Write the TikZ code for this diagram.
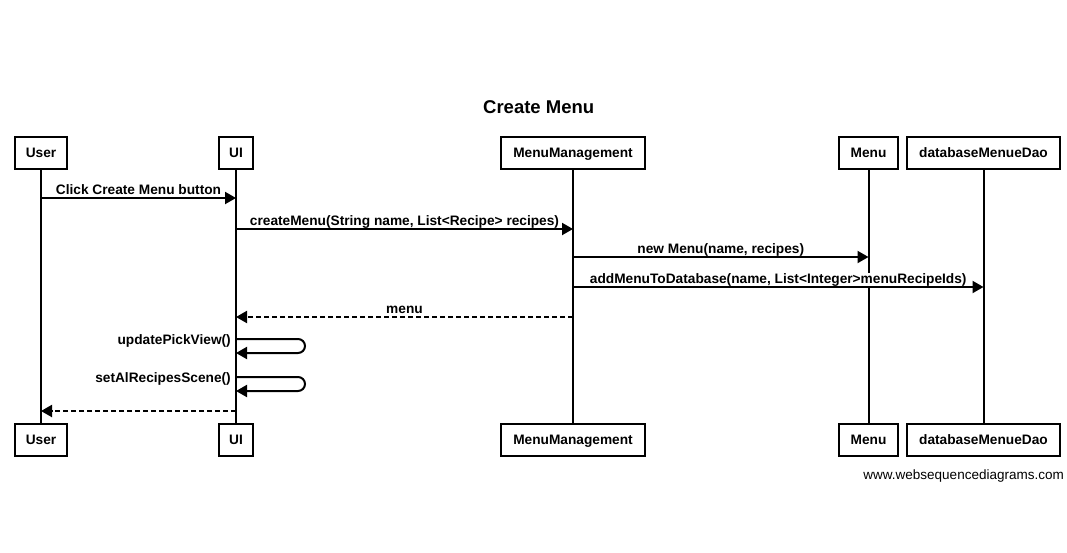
\documentclass[tikz,border=0pt]{standalone}
\usepackage{fontspec}
\setmainfont{Liberation Sans}
\usetikzlibrary{arrows.meta,calc}
\tikzset{
  actor/.style={draw, line width=2pt, fill=white, minimum height=32pt, inner sep=0pt,
    text height=9.9pt, text depth=0pt,
    font=\bfseries\fontsize{13.7}{16}\selectfont},
  life/.style={line width=2pt},
  msg/.style={line width=2pt, -{Triangle[length=11pt,width=12pt]}},
  ret/.style={msg, dash pattern=on 5pt off 3pt},
  lbl/.style={font=\bfseries\fontsize{13.7}{16}\selectfont, inner sep=0pt, anchor=base, fill=white},
  selflbl/.style={font=\bfseries\fontsize{13.7}{16}\selectfont, inner sep=0pt, anchor=base east},
}
\begin{document}
\begin{tikzpicture}[x=1pt,y=-1pt]
\useasboundingbox (0,0) rectangle (1067,552);
\node[font=\bfseries\fontsize{18.5}{22}\selectfont, anchor=base] (title) at (538.7,113) {Create Menu};
% top actors
\node[actor, minimum width=52pt]  (uT)  at (41,153)    {User};
\node[actor, minimum width=34pt]  (uiT) at (236,153)   {UI};
\node[actor, minimum width=144pt] (mmT) at (573,153)   {MenuManagement};
\node[actor, minimum width=59pt]  (meT) at (868.5,153) {Menu};
\node[actor, minimum width=153pt] (dbT) at (983.5,153) {databaseMenueDao};
% bottom actors
\node[actor, minimum width=52pt]  (uB)  at (41,440)    {User};
\node[actor, minimum width=34pt]  (uiB) at (236,440)   {UI};
\node[actor, minimum width=144pt] (mmB) at (573,440)   {MenuManagement};
\node[actor, minimum width=59pt]  (meB) at (868.5,440) {Menu};
\node[actor, minimum width=153pt] (dbB) at (983.5,440) {databaseMenueDao};
% lifelines
\draw[life] (uT.south) -- (uB.north);
\draw[life] (uiT.south) -- (uiB.north);
\draw[life] (mmT.south) -- (mmB.north);
\draw[life] (meT.south) -- (meB.north);
\draw[life] (dbT.south) -- (dbB.north);
% message labels (drawn before the arrows, white background hides lifelines)
\node[lbl] (t1) at ($(uT |- 0,194)!0.5!(uiT |- 0,194)$) {Click Create Menu button};
\node[lbl] (t2) at ($(uiT |- 0,225)!0.5!(mmT |- 0,225)$) {createMenu(String name, List<Recipe> recipes)};
\node[lbl] (t3) at ($(mmT |- 0,253)!0.5!(meT |- 0,253)$) {new Menu(name, recipes)};
\node[lbl] (t4) at ($(mmT |- 0,283)!0.5!(dbT |- 0,283)$) {addMenuToDatabase(name, List<Integer>menuRecipeIds)};
\node[lbl] (t5) at ($(mmT |- 0,313)!0.5!(uiT |- 0,313)$) {menu};
% messages
\draw[msg] (uT |- 0,198) -- (uiT |- 0,198);
\draw[msg] (uiT |- 0,229) -- (mmT |- 0,229);
\draw[msg] (mmT |- 0,257) -- (meT |- 0,257);
\draw[msg] (mmT |- 0,287) -- (dbT |- 0,287);
\draw[ret] (mmT |- 0,317) -- (uiT |- 0,317);
% self messages
\coordinate (s1a) at (305,339);
\coordinate (s1b) at (305,353);
\draw[msg, rounded corners=7pt] (uiT |- s1a) -- (s1a) -- (s1b) -- (uiT |- s1b);
\node[selflbl] (l1) at (231,344) {updatePickView()};
\coordinate (s2a) at (305,377);
\coordinate (s2b) at (305,391);
\draw[msg, rounded corners=7pt] (uiT |- s2a) -- (s2a) -- (s2b) -- (uiT |- s2b);
\node[selflbl] (l2) at (231,382) {setAlRecipesScene()};
\draw[ret] (uiT |- 0,411) -- (uT |- 0,411);
% watermark
\node[font=\fontsize{13.5}{16}\selectfont, anchor=base east, inner sep=0pt] (wm) at (1064,479) {www.websequencediagrams.com};
\end{tikzpicture}
\end{document}
